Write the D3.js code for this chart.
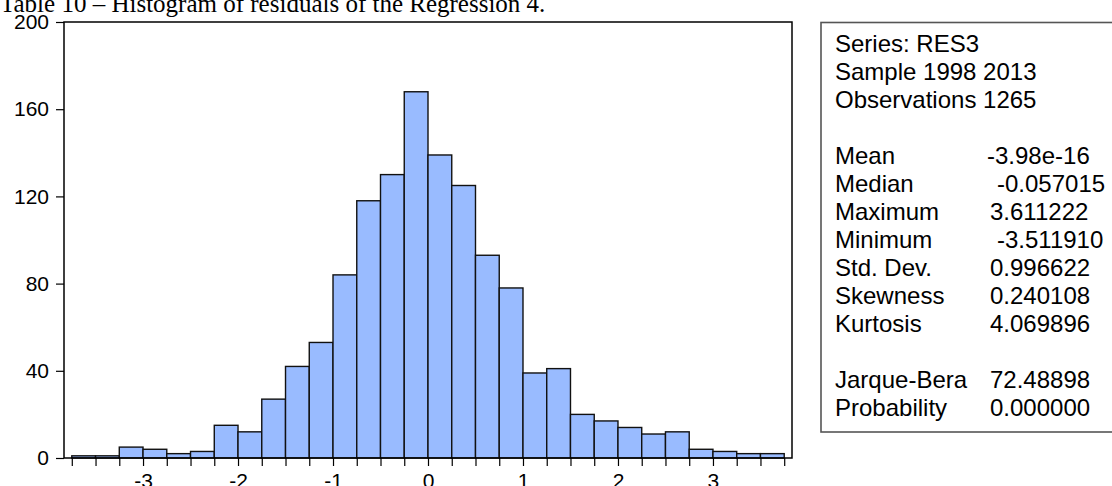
<!DOCTYPE html>
<html>
<head>
<meta charset="utf-8">
<script src="https://cdn.jsdelivr.net/npm/d3@7"></script>
<style>
  body { margin: 0; background: #fff; overflow: hidden; }
  svg { display: block; }
  text { font-family: "Liberation Sans", Arial, sans-serif; fill: #000; }
</style>
</head>
<body>
<div id="chart"></div>
<script>
// histogram of RES3, bins of width 0.25
const binStarts = [-3.75, -3.5, -3.25, -3, -2.75, -2.5, -2.25, -2, -1.75, -1.5,
                   -1.25, -1, -0.75, -0.5, -0.25, 0, 0.25, 0.5, 0.75, 1,
                   1.25, 1.5, 1.75, 2, 2.25, 2.5, 2.75, 3, 3.25, 3.5];
const counts = [1, 1, 5, 4, 2, 3, 15, 12, 27, 42,
                53, 84, 118, 130, 168, 139, 125, 93, 78, 39,
                41, 20, 17, 14, 11, 12, 4, 3, 2, 2];
const binWidth = 0.25;

const xTicks = [-3, -2, -1, 0, 1, 2, 3];
const yTicks = [0, 40, 80, 120, 160, 200];

const titleText = "Table 10 \u2013 Histogram of residuals of the Regression 4.";

const statLabels = ["Series: RES3", "Sample 1998 2013", "Observations 1265", "",
                    "Mean", "Median", "Maximum", "Minimum", "Std. Dev.", "Skewness", "Kurtosis", "",
                    "Jarque-Bera", "Probability"];
const statValues = ["", "", "", "",
                    "-3.98e-16", "-0.057015", "3.611222", "-3.511910", "0.996622", "0.240108", "4.069896", "",
                    "72.48898", "0.000000"];

const W = 1112, H = 486;
const plot = { left: 64, right: 792, top: 22, bottom: 458 };

const svg = d3.select('#chart').append('svg')
  .attr('width', W)
  .attr('height', H);

const x = d3.scaleLinear().domain([-3.832, 3.832]).range([plot.left, plot.right]);
const y = d3.scaleLinear().domain([0, 200]).range([plot.bottom, plot.top]);

// title, top half is cut off in the original
svg.append('text')
  .attr('x', 0)
  .attr('y', 12)
  .style('font-family', '"Liberation Serif", "Times New Roman", serif')
  .style('font-size', '25px')
  .text(titleText);

// bars
const bins = binStarts.map((b, i) => ({ x0: b, x1: b + binWidth, n: counts[i] }));
svg.append('g').selectAll('rect')
  .data(bins)
  .enter().append('rect')
  .attr('x', d => x(d.x0))
  .attr('y', d => y(d.n))
  .attr('width', d => x(d.x1) - x(d.x0))
  .attr('height', d => y(0) - y(d.n))
  .attr('fill', '#99bbff')
  .attr('stroke', '#111')
  .attr('stroke-width', 1.4);

// frame
svg.append('rect')
  .attr('x', plot.left)
  .attr('y', plot.top)
  .attr('width', plot.right - plot.left)
  .attr('height', plot.bottom - plot.top)
  .attr('fill', 'none')
  .attr('stroke', '#000')
  .attr('stroke-width', 1.5);

// y axis
const yAxis = d3.axisLeft(y).tickValues(yTicks).tickSize(8).tickPadding(7).tickFormat(d => String(d));
const gy = svg.append('g')
  .attr('transform', `translate(${plot.left},0)`)
  .call(yAxis);
gy.select('.domain').remove();
gy.selectAll('line').attr('stroke', '#000').attr('stroke-width', 1.2);
gy.selectAll('text').style('font-size', '21px').style('font-family', '"Liberation Sans", Arial, sans-serif');

// x axis: minor ticks on each bin edge, labels on integers
const edges = binStarts.concat([binStarts[binStarts.length - 1] + binWidth]);
const gxMinor = svg.append('g')
  .attr('transform', `translate(0,${plot.bottom})`)
  .call(d3.axisBottom(x).tickValues(edges).tickSize(8).tickFormat(''));
gxMinor.select('.domain').remove();
gxMinor.selectAll('line').attr('stroke', '#000').attr('stroke-width', 1.2);

const gx = svg.append('g')
  .attr('transform', `translate(0,${plot.bottom})`)
  .call(d3.axisBottom(x).tickValues(xTicks).tickSize(0).tickPadding(15).tickFormat(d => String(d)));
gx.select('.domain').remove();
gx.selectAll('text').style('font-size', '21px').style('font-family', '"Liberation Sans", Arial, sans-serif');

// statistics box
const box = { left: 821, top: 22.5, bottom: 432 };
svg.append('rect')
  .attr('x', box.left)
  .attr('y', box.top)
  .attr('width', W - box.left + 10)
  .attr('height', box.bottom - box.top)
  .attr('fill', '#fff')
  .attr('stroke', '#555')
  .attr('stroke-width', 1.6);

const lineH = 28;
const firstBase = 52;
const rows = svg.append('g');
statLabels.forEach((lab, i) => {
  const yy = firstBase + i * lineH;
  rows.append('text')
    .attr('x', 835)
    .attr('y', yy)
    .style('font-size', '24px')
    .text(lab);
  const v = statValues[i];
  if (v) {
    // EViews lines the digits up, so negative fixed numbers sit a little right
    let vx = 990;
    if (v.includes('e')) vx = 987;
    else if (v.startsWith('-')) vx = 997;
    rows.append('text')
      .attr('x', vx)
      .attr('y', yy)
      .style('font-size', '24px')
      .text(v);
  }
});
</script>
</body>
</html>
